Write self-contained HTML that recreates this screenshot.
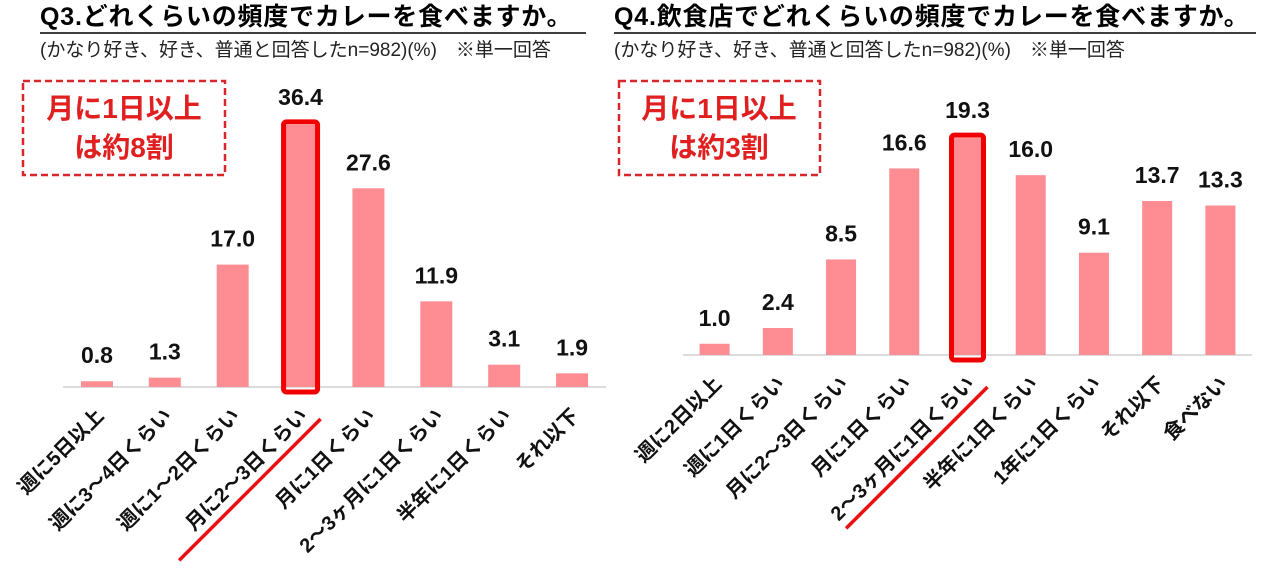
<!DOCTYPE html>
<html><head><meta charset="utf-8"><style>
body{margin:0;background:#fff;width:1273px;height:583px;overflow:hidden}
svg{display:block;font-family:"Liberation Sans","Noto Sans CJK JP",sans-serif}
</style></head><body>
<svg id="c" width="1273" height="583">
<g>
<text x="40" y="25" font-size="25" font-weight="bold" letter-spacing="0.8" fill="#000">Q3.どれくらいの頻度でカレーを食べますか。</text>
<line x1="40" y1="33" x2="586" y2="33" stroke="#000" stroke-width="1.5"/>
<text x="40" y="56" font-size="19" fill="#222">(かなり好き、好き、普通と回答したn=982)(%)　※単一回答</text>
</g>
<g>
<text x="614" y="25" font-size="25" font-weight="bold" letter-spacing="0.8" fill="#000">Q4.飲食店でどれくらいの頻度でカレーを食べますか。</text>
<line x1="614" y1="33" x2="1256" y2="33" stroke="#000" stroke-width="1.5"/>
<text x="614" y="56" font-size="19" fill="#222">(かなり好き、好き、普通と回答したn=982)(%)　※単一回答</text>
</g>
<g>
<rect x="23" y="81" width="202" height="94" fill="none" stroke="#d9262b" stroke-width="2.5" stroke-dasharray="7,4"/>
<text x="124" y="118" font-size="28" font-weight="bold" fill="#e02020" text-anchor="middle">月に1日以上</text>
<text x="124" y="157" font-size="28" font-weight="bold" fill="#e02020" text-anchor="middle">は約8割</text>
</g>
<g>
<rect x="619" y="81" width="201" height="94" fill="none" stroke="#d9262b" stroke-width="2.5" stroke-dasharray="7,4"/>
<text x="719" y="118" font-size="28" font-weight="bold" fill="#e02020" text-anchor="middle">月に1日以上</text>
<text x="719" y="157" font-size="28" font-weight="bold" fill="#e02020" text-anchor="middle">は約3割</text>
</g>
</svg>
<script>
const q3Categories=["週に5日以上","週に3～4日くらい","週に1～2日くらい","月に2～3日くらい","月に1日くらい","2～3ヶ月に1日くらい","半年に1日くらい","それ以下"];
const q3Values=[0.8,1.3,17.0,36.4,27.6,11.9,3.1,1.9];
const q3Highlight=3;
const q4Categories=["週に2日以上","週に1日くらい","月に2～3日くらい","月に1日くらい","2～3ヶ月に1日くらい","半年に1日くらい","1年に1日くらい","それ以下","食べない"];
const q4Values=[1.0,2.4,8.5,16.6,19.3,16.0,9.1,13.7,13.3];
const q4Highlight=4;
const NS="http://www.w3.org/2000/svg";
const svg=document.getElementById('c');
function mk(t,a,p){const e=document.createElementNS(NS,t);for(const k in a)e.setAttribute(k,a[k]);(p||svg).appendChild(e);return e;}
function draw(prefix,cats,vals,hi,x0,x1,base,scale,bw){
  const g=mk('g',{});
  
  
  const step=(x1-x0)/cats.length;
  const xs=i=>x0+step*(i+0.5);
  const ys=v=>base-v*scale;
  const ax=mk('line',{x1:x0,x2:x1,y1:base,y2:base,stroke:'#d0d0d0','stroke-width':1.5},g);
  
  
  vals.forEach((v,i)=>{
    const cx=xs(i),top=ys(v);
    const r=mk('rect',{x:cx-bw/2,y:top,width:bw,height:base-top,fill:'#fd8c93'},g);
    
    
    if(i===hi){
      const h=mk('rect',{x:cx-bw/2-1,y:top-3,width:bw+2,height:base-top+8,fill:'none',stroke:'#f00000','stroke-width':5,rx:3},g);
      
      
    }
    const t=mk('text',{x:cx,y:top-(i===hi?20:18),'font-size':23,'font-weight':'bold','text-anchor':'middle',fill:'#111'},g);
    t.textContent=v.toFixed(1);
    
    
    const lx=cx+8,ly=base+30;
    const l=mk('text',{x:lx,y:ly,'font-size':20,'font-weight':'bold','text-anchor':'end',fill:'#111',transform:`rotate(-45 ${lx} ${ly})`},g);
    l.textContent=cats[i];
    
    
    if(i===hi){
      const sx=lx+12,sy=ly+2,len=200;
      const u=mk('line',{x1:sx,y1:sy,x2:sx-Math.cos(Math.PI/4)*len,y2:sy+Math.sin(Math.PI/4)*len,stroke:'#e81010','stroke-width':3.5},g);
      
      
    }
  });
}
draw('q3',q3Categories,q3Values,q3Highlight,63,606,387,7.2,32);
draw('q4',q4Categories,q4Values,q4Highlight,683,1252,355,11.24,30);
</script>
</body></html>
